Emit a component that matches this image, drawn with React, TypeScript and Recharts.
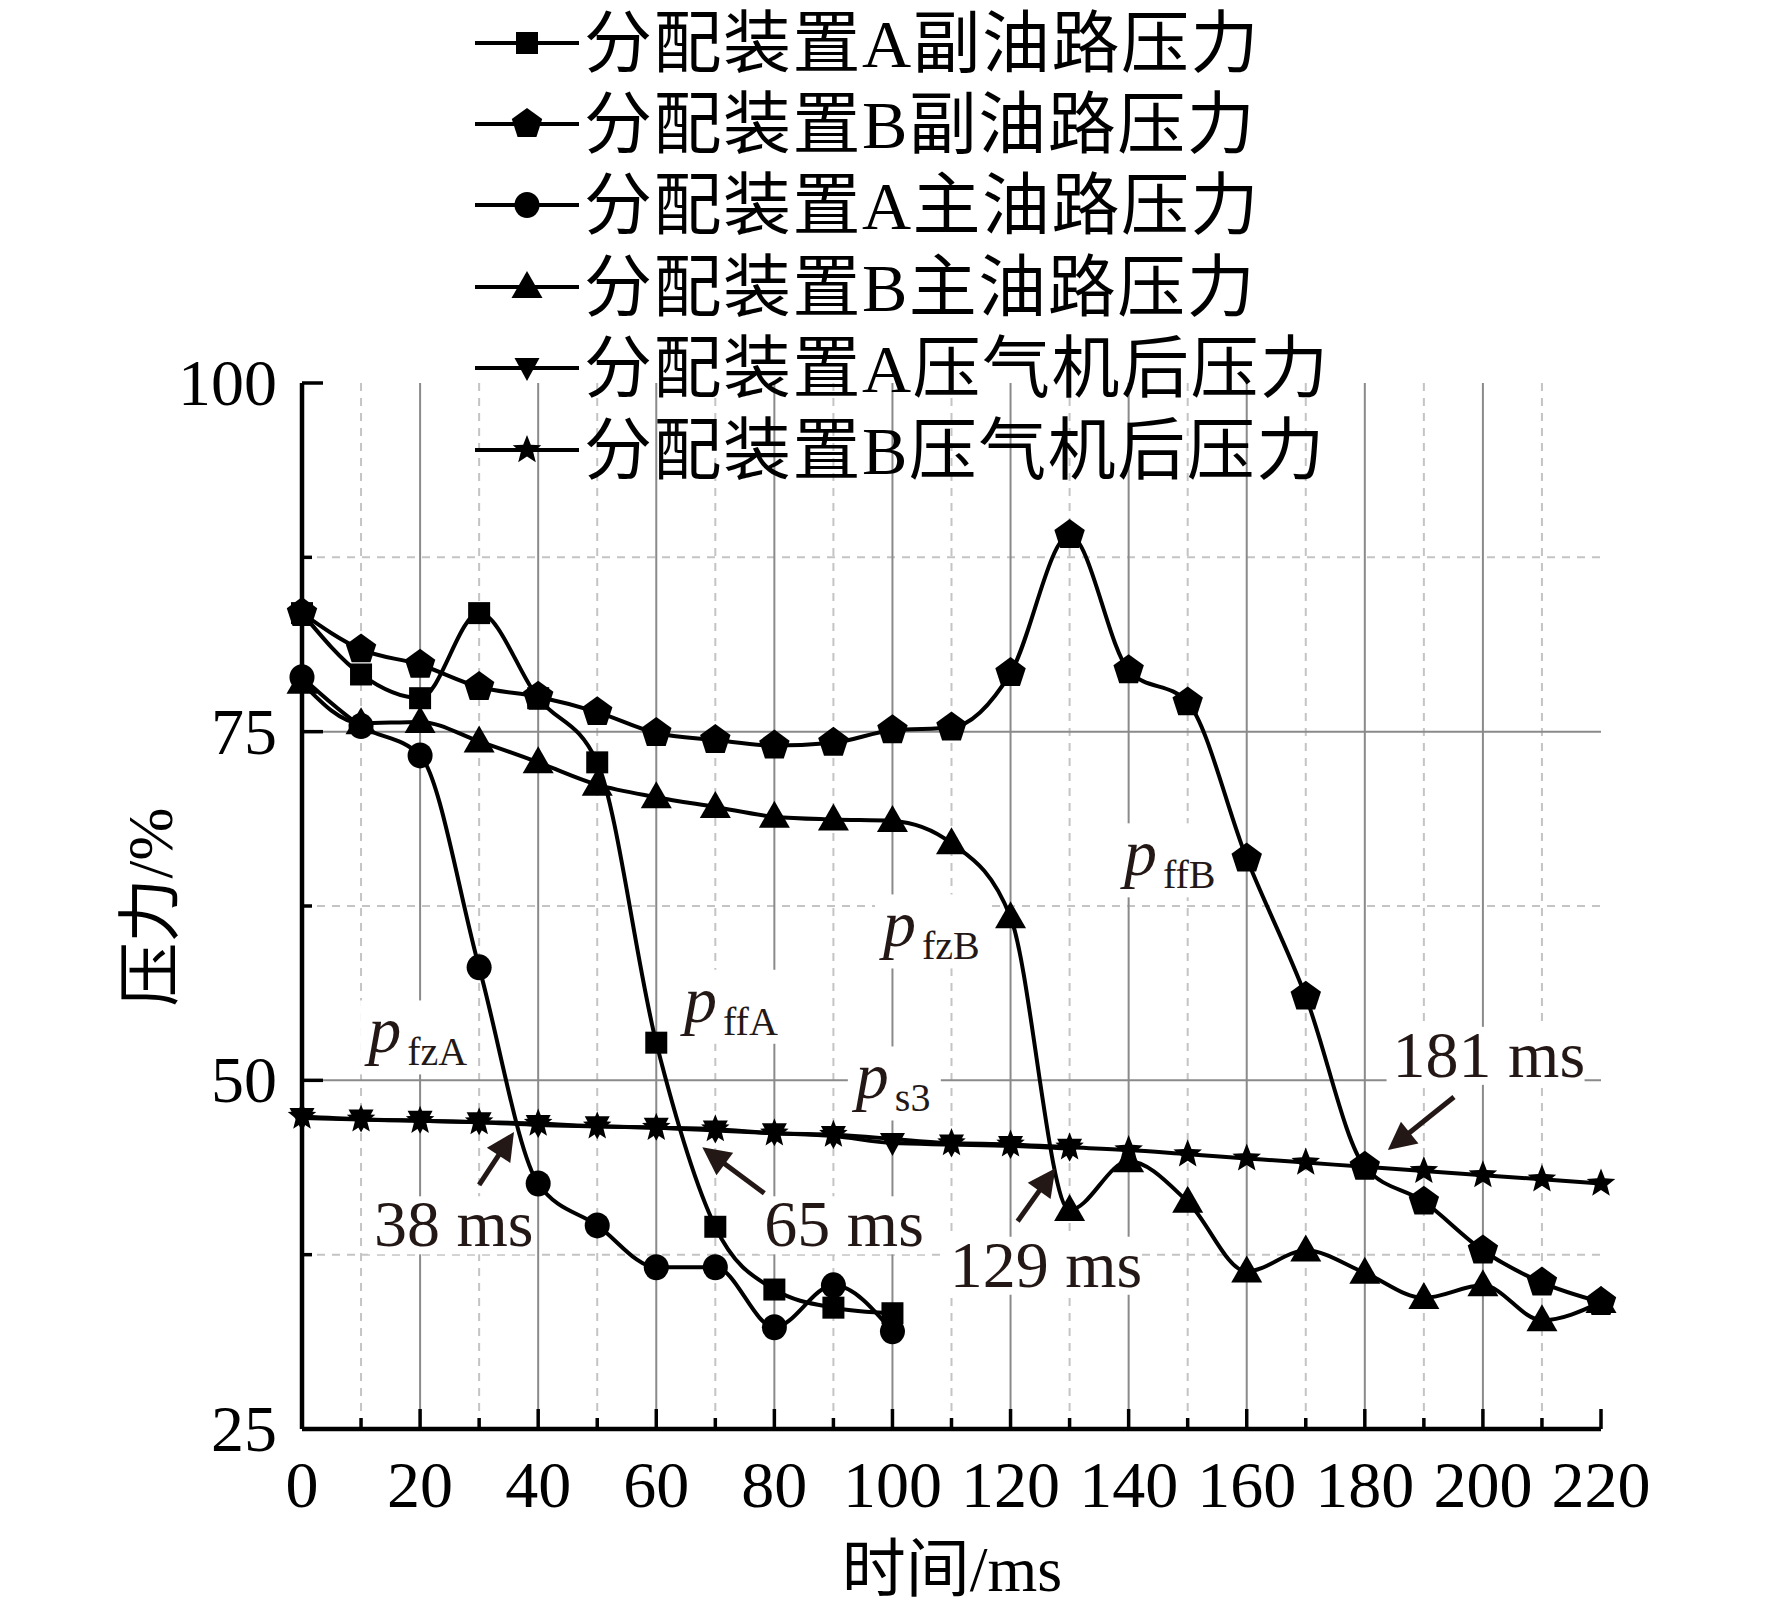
import React from 'react';
import { LineChart, Line, XAxis, YAxis, CartesianGrid, ReferenceLine, ReferenceDot } from 'recharts';

const times = [0, 10, 20, 30, 40, 50, 60, 70, 80, 90, 100, 110, 120, 130, 140, 150, 160, 170, 180, 190, 200, 210, 220];
const fuYouA = [83.5, 79.1, 77.4, 83.5, 77.4, 72.8, 52.7, 39.5, 35.0, 33.7, 33.3];
const fuYouB = [83.5, 80.9, 79.8, 78.2, 77.5, 76.4, 74.9, 74.4, 74.0, 74.2, 75.1, 75.3, 79.2, 89.1, 79.4, 77.1, 65.9, 56.0, 43.8, 41.3, 37.8, 35.5, 34.1];
const zhuYouA = [78.9, 75.4, 73.3, 58.1, 42.6, 39.6, 36.6, 36.6, 32.3, 35.3, 32.0];
const zhuYouB = [78.5, 75.6, 75.7, 74.3, 72.8, 71.2, 70.3, 69.6, 68.9, 68.7, 68.6, 67.0, 61.7, 40.7, 44.2, 41.3, 36.3, 37.8, 36.2, 34.4, 35.3, 32.8, 34.1];
const yaQiA = [47.3, 47.2, 47.1, 47.0, 46.8, 46.7, 46.6, 46.4, 46.2, 46.0, 45.5, 45.4, 45.3, 45.1];
const yaQiB = [47.4, 47.2, 47.1, 47.0, 46.9, 46.7, 46.6, 46.5, 46.2, 46.1, null, 45.5, 45.4, 45.2, 45.0, 44.7, 44.4, 44.1, 43.8, 43.5, 43.2, 42.9, 42.6];

const seriesNames = [
  '分配装置A副油路压力',
  '分配装置B副油路压力',
  '分配装置A主油路压力',
  '分配装置B主油路压力',
  '分配装置A压气机后压力',
  '分配装置B压气机后压力',
];
const seriesKeys = ['fuYouA', 'fuYouB', 'zhuYouA', 'zhuYouB', 'yaQiA', 'yaQiB'];
const seriesMarkers = ['square', 'pentagon', 'circle', 'up', 'down', 'star'];
const seriesValues = [fuYouA, fuYouB, zhuYouA, zhuYouB, yaQiA, yaQiB];

const xTicks = times;
const yTicks = [25, 37.5, 50, 62.5, 75, 87.5, 100];
const xMajorGrid = [20, 40, 60, 80, 100, 120, 140, 160, 180, 200];
const xMinorGrid = [10, 30, 50, 70, 90, 110, 130, 150, 170, 190, 210];
const yMajorGrid = [50, 75];
const yMinorGrid = [37.5, 62.5, 87.5];

const pLabels = [
  { sub: 'fzA', t: 11.2, v: 52.0 },
  { sub: 'ffA', t: 64.7, v: 54.2 },
  { sub: 's3', t: 93.8, v: 48.7 },
  { sub: 'fzB', t: 98.4, v: 59.6 },
  { sub: 'ffB', t: 139.2, v: 64.7 },
];
const msLabels = [
  { text: '38 ms', t: 12.2, v: 38.1 },
  { text: '65 ms', t: 78.3, v: 38.1 },
  { text: '129 ms', t: 109.7, v: 35.2 },
  { text: '181 ms', t: 184.7, v: 50.25 },
];
const arrowsFrom = [[30.0, 42.5], [78.3, 41.9], [121.2, 39.9], [195.1, 48.8]];
const arrowsTo = [[35.9, 46.3], [67.8, 45.2], [127.6, 43.7], [183.9, 45.0]];

const data = times.map((t, i) => {
  const row: any = { t };
  seriesKeys.forEach((k, j) => {
    const v = seriesValues[j][i];
    row[k] = v === undefined ? null : v;
  });
  return row;
});

const SERIF = '"Liberation Serif", "Times New Roman", serif';
const MIXED = '"Liberation Serif", "Noto Sans CJK SC", serif';
const TXT = '#231815';

function Marker({ kind, cx, cy }: { kind: string; cx: number; cy: number }) {
  const f = '#000';
  if (kind === 'square') return <rect x={cx - 11} y={cy - 11} width={22} height={22} fill={f} />;
  if (kind === 'circle') return <ellipse cx={cx} cy={cy} rx={12.5} ry={13} fill={f} />;
  if (kind === 'up') return <polygon points={`${cx},${cy - 16} ${cx + 15.5},${cy + 11} ${cx - 15.5},${cy + 11}`} fill={f} />;
  if (kind === 'down') return <polygon points={`${cx - 12.5},${cy - 10} ${cx + 12.5},${cy - 10} ${cx},${cy + 13}`} fill={f} />;
  if (kind === 'pentagon') {
    const pts = [0, 1, 2, 3, 4].map((i) => {
      const a = ((-90 + 72 * i) * Math.PI) / 180;
      return `${cx + 16 * Math.cos(a)},${cy + 16 * Math.sin(a)}`;
    });
    return <polygon points={pts.join(' ')} fill={f} />;
  }
  const pts: string[] = [];
  for (let i = 0; i < 10; i++) {
    const r = i % 2 === 0 ? 15 : 6.5;
    const a = ((-90 + 36 * i) * Math.PI) / 180;
    pts.push(`${cx + r * Math.cos(a)},${cy + r * Math.sin(a)}`);
  }
  return <polygon points={pts.join(' ')} fill={f} />;
}

const makeDot = (kind: string, key: string) => (p: any) => {
  if (p == null || p.cx == null || p.cy == null || p.value == null || (Array.isArray(p.value) && p.value[1] == null)) {
    return <g key={`${key}-${p?.index}`} />;
  }
  return (
    <g key={`${key}-${p.index}`}>
      <Marker kind={kind} cx={p.cx} cy={p.cy} />
    </g>
  );
};

const XTick = (p: any) => {
  const v = p.payload.value;
  const major = v % 20 === 0;
  return (
    <g>
      <line x1={p.x} y1={p.y} x2={p.x} y2={p.y - (major ? 20 : 11)} stroke="#000" strokeWidth={3.5} />
      {major && (
        <text x={p.x} y={p.y + 78} textAnchor="middle" fontFamily={SERIF} fontSize={66} fill="#000">
          {v}
        </text>
      )}
    </g>
  );
};

const YTick = (p: any) => {
  const v = p.payload.value;
  const major = v % 25 === 0;
  return (
    <g>
      <line x1={p.x} y1={p.y} x2={p.x + (major ? 21 : 10)} y2={p.y} stroke="#000" strokeWidth={3.5} />
      {major && (
        <text x={p.x - 25} y={p.y + 22} textAnchor="end" fontFamily={SERIF} fontSize={66} fill="#000">
          {v}
        </text>
      )}
    </g>
  );
};

const PLabel = ({ cx, cy, sub }: any) => {
  const w = 33 + 6 + sub.length * 20;
  return (
    <g>
      <rect x={cx - 8} y={cy - 52} width={w + 14} height={74} fill="#fff" />
      <text x={cx} y={cy} fontFamily={SERIF} fontSize={66} fill={TXT}>
        <tspan fontStyle="italic">p</tspan>
        <tspan fontSize={40} dx={6} dy={13}>{sub}</tspan>
      </text>
    </g>
  );
};

const MsLabel = ({ cx, cy, text }: any) => {
  const w = text.length * 31;
  return (
    <g>
      <rect x={cx - 6} y={cy - 50} width={w + 12} height={58} fill="#fff" />
      <text x={cx} y={cy} fontFamily={SERIF} fontSize={66} fill={TXT}>{text}</text>
    </g>
  );
};

const ArrowShape = (p: any) => {
  const { x1, y1, x2, y2 } = p;
  if ([x1, y1, x2, y2].some((v) => v == null || isNaN(v))) return <g />;
  const dx = x2 - x1;
  const dy = y2 - y1;
  const len = Math.sqrt(dx * dx + dy * dy) || 1;
  const ux = dx / len;
  const uy = dy / len;
  const hl = 28;
  const hw = 14;
  const bx = x2 - ux * hl;
  const by = y2 - uy * hl;
  return (
    <g>
      <line x1={x1} y1={y1} x2={bx + ux * 2} y2={by + uy * 2} stroke={TXT} strokeWidth={5} />
      <polygon points={`${x2},${y2} ${bx - uy * hw},${by + ux * hw} ${bx + uy * hw},${by - ux * hw}`} fill={TXT} />
    </g>
  );
};

const rowCenters = [35, 116, 197, 279, 360, 442];

export default function App() {
  return (
    <div style={{ position: 'relative', width: 1764, height: 1600 }}>
      <LineChart
        width={1764}
        height={1600}
        data={data}
        margin={{ top: 375, right: 171, left: 194, bottom: 79 }}
      >
        <CartesianGrid
          horizontal={false}
          vertical={true}
          verticalValues={xMinorGrid}
          stroke="#c4c4c4"
          strokeWidth={2}
          strokeDasharray="8 7"
        />
        <CartesianGrid
          horizontal={true}
          vertical={false}
          horizontalValues={yMinorGrid}
          stroke="#c4c4c4"
          strokeWidth={2}
          strokeDasharray="8 7"
        />
        <CartesianGrid
          horizontal={true}
          vertical={true}
          verticalValues={xMajorGrid}
          horizontalValues={yMajorGrid}
          stroke="#8a8a8a"
          strokeWidth={2}
        />
        <XAxis
          dataKey="t"
          type="number"
          domain={[0, 220]}
          ticks={xTicks}
          interval={0}
          height={100}
          tickSize={0}
          tickMargin={0}
          tickLine={false}
          axisLine={{ stroke: '#000', strokeWidth: 4.5 }}
          tick={<XTick />}
        />
        <YAxis
          type="number"
          domain={[25, 100]}
          ticks={yTicks}
          interval={0}
          width={100}
          tickSize={0}
          tickMargin={0}
          tickLine={false}
          axisLine={{ stroke: '#000', strokeWidth: 4.5 }}
          tick={<YTick />}
        />
        {pLabels.map((a) => (
          <ReferenceDot
            key={`p-${a.sub}`}
            x={a.t}
            y={a.v}
            r={0}
            ifOverflow="visible"
            shape={(props: any) => <PLabel cx={props.cx} cy={props.cy} sub={a.sub} />}
          />
        ))}
        {msLabels.map((a) => (
          <ReferenceDot
            key={`ms-${a.text}`}
            x={a.t}
            y={a.v}
            r={0}
            ifOverflow="visible"
            shape={(props: any) => <MsLabel cx={props.cx} cy={props.cy} text={a.text} />}
          />
        ))}
        {seriesKeys.map((k, j) => (
          <Line
            key={k}
            dataKey={k}
            name={seriesNames[j]}
            type="monotone"
            stroke="#000"
            strokeWidth={4}
            connectNulls
            isAnimationActive={false}
            dot={makeDot(seriesMarkers[j], k)}
            activeDot={false}
          />
        ))}
        {arrowsFrom.map((f, i) => (
          <ReferenceLine
            key={`arrow-${i}`}
            segment={[{ x: f[0], y: f[1] }, { x: arrowsTo[i][0], y: arrowsTo[i][1] }]}
            ifOverflow="visible"
            shape={ArrowShape}
          />
        ))}
      </LineChart>
      <svg
        width={1764}
        height={1600}
        style={{ position: 'absolute', left: 0, top: 0, pointerEvents: 'none' }}
      >
        {seriesNames.map((n, i) => (
          <g key={n}>
            <line x1={467} y1={rowCenters[i]} x2={571} y2={rowCenters[i]} stroke="#000" strokeWidth={4} />
            <Marker kind={seriesMarkers[i]} cx={519} cy={rowCenters[i]} />
            <text
              x={576}
              y={rowCenters[i] + 24}
              fontFamily={MIXED}
              fontSize={68}
              letterSpacing={1.5}
              fill="#000"
            >
              {n}
            </text>
          </g>
        ))}
        <text
          x={142}
          y={899}
          transform="rotate(-90 142 899)"
          textAnchor="middle"
          dominantBaseline="central"
          fontFamily={MIXED}
          fontSize={64}
          fill="#000"
        >
          压力/%
        </text>
        <text x={944} y={1583} textAnchor="middle" fontFamily={MIXED} fontSize={64} fill="#000">
          时间/ms
        </text>
      </svg>
    </div>
  );
}
